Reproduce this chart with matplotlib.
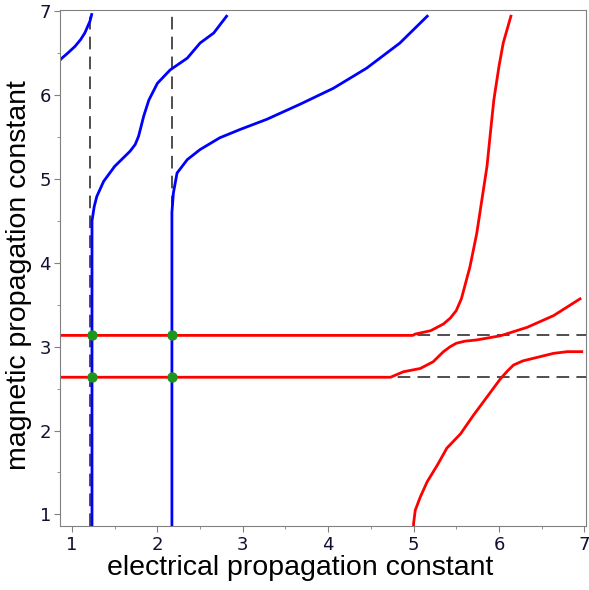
import matplotlib

matplotlib.use("Agg")
import matplotlib.pyplot as plt
from matplotlib.ticker import MultipleLocator

# asymptotes (dashed)
ASYM_X = [1.21, 2.17]
ASYM_Y = [3.134, 2.635]

# blue branches (electrical)
blue_a_x = [0.863, 0.871, 0.95, 1.035, 1.10, 1.15, 1.21, 1.23]
blue_a_y = [6.42, 6.43, 6.50, 6.58, 6.66, 6.74, 6.88, 6.96]

blue_b_x = [1.234, 1.234, 1.26, 1.29, 1.37, 1.50, 1.60, 1.68, 1.74, 1.78, 1.84, 1.90, 2.00, 2.15, 2.35, 2.50, 2.66, 2.81]
blue_b_y = [0.865, 4.50, 4.67, 4.79, 4.97, 5.15, 5.25, 5.33, 5.41, 5.51, 5.75, 5.94, 6.14, 6.30, 6.44, 6.62, 6.74, 6.94]

blue_c_x = [2.17, 2.17, 2.187, 2.23, 2.35, 2.50, 2.73, 2.97, 3.28, 3.67, 4.06, 4.45, 4.84, 5.16]
blue_c_y = [0.865, 4.60, 4.83, 5.07, 5.23, 5.35, 5.49, 5.59, 5.71, 5.89, 6.08, 6.32, 6.62, 6.94]

# red branches (magnetic)
red_a_x = [0.863, 4.99, 5.02, 5.20, 5.35, 5.43, 5.50, 5.56, 5.66, 5.74, 5.80, 5.86, 5.90, 5.94, 6.00, 6.05, 6.14]
red_a_y = [3.134, 3.134, 3.15, 3.19, 3.27, 3.34, 3.43, 3.57, 3.95, 4.35, 4.75, 5.15, 5.55, 5.94, 6.34, 6.62, 6.94]

red_b_x = [0.863, 4.73, 4.88, 5.08, 5.23, 5.35, 5.43, 5.50, 5.60, 5.74, 6.02, 6.33, 6.64, 6.95]
red_b_y = [2.635, 2.635, 2.70, 2.74, 2.82, 2.94, 3.00, 3.04, 3.065, 3.08, 3.13, 3.23, 3.37, 3.57]

red_c_x = [5.00, 5.00, 5.02, 5.08, 5.16, 5.28, 5.39, 5.55, 5.70, 5.86, 6.02, 6.10, 6.17, 6.28, 6.40, 6.64, 6.80, 6.97]
red_c_y = [0.865, 0.89, 1.05, 1.21, 1.39, 1.59, 1.79, 1.96, 2.18, 2.40, 2.62, 2.71, 2.78, 2.83, 2.86, 2.92, 2.94, 2.94]

# crossing points
pts_x = [1.234, 1.234, 2.17, 2.17]
pts_y = [3.134, 2.635, 3.134, 2.635]

fig = plt.figure(figsize=(5.89, 5.90), dpi=100)
ax = fig.add_axes([0.1024, 0.109, 0.892, 0.8735])

dash = dict(color="#404040", lw=1.3, dashes=(7, 4))
for xv in ASYM_X:
    ax.axvline(xv, **dash)
for yv in ASYM_Y:
    ax.axhline(yv, **dash)

for xs, ys in [(blue_a_x, blue_a_y), (blue_b_x, blue_b_y), (blue_c_x, blue_c_y)]:
    ax.plot(xs, ys, color="#0000ff", lw=2)
for xs, ys in [(red_a_x, red_a_y), (red_b_x, red_b_y), (red_c_x, red_c_y)]:
    ax.plot(xs, ys, color="#ff0000", lw=2)

ax.plot(pts_x, pts_y, "o", color="#1e961e", ms=6.5, zorder=5)

ax.set_xlim(0.863, 7.016)
ax.set_ylim(0.865, 7.01)
ax.xaxis.set_major_locator(MultipleLocator(1))
ax.xaxis.set_minor_locator(MultipleLocator(0.5))
ax.yaxis.set_major_locator(MultipleLocator(1))
ax.yaxis.set_minor_locator(MultipleLocator(0.5))
ax.tick_params(which="both", direction="out", color="#808080", labelcolor="#101030",
               labelsize=13, top=False, right=False)
ax.tick_params(which="major", length=4.3)
ax.tick_params(which="minor", length=2.5)
ax.tick_params(axis="x", pad=3)
ax.tick_params(axis="y", pad=2.4)
for lab in ax.get_xticklabels() + ax.get_yticklabels():
    lab.set_family("DejaVu Sans")
for sp in ax.spines.values():
    sp.set_color("#808080")

ax.set_xlabel("electrical propagation constant", fontsize=20.5, family="Liberation Sans")
ax.set_ylabel("magnetic propagation constant", fontsize=20.5, family="Liberation Sans")
ax.xaxis.set_label_coords(0.456, -0.057)
ax.yaxis.set_label_coords(-0.054, 0.486)

fig.savefig("out.png", dpi=100)
